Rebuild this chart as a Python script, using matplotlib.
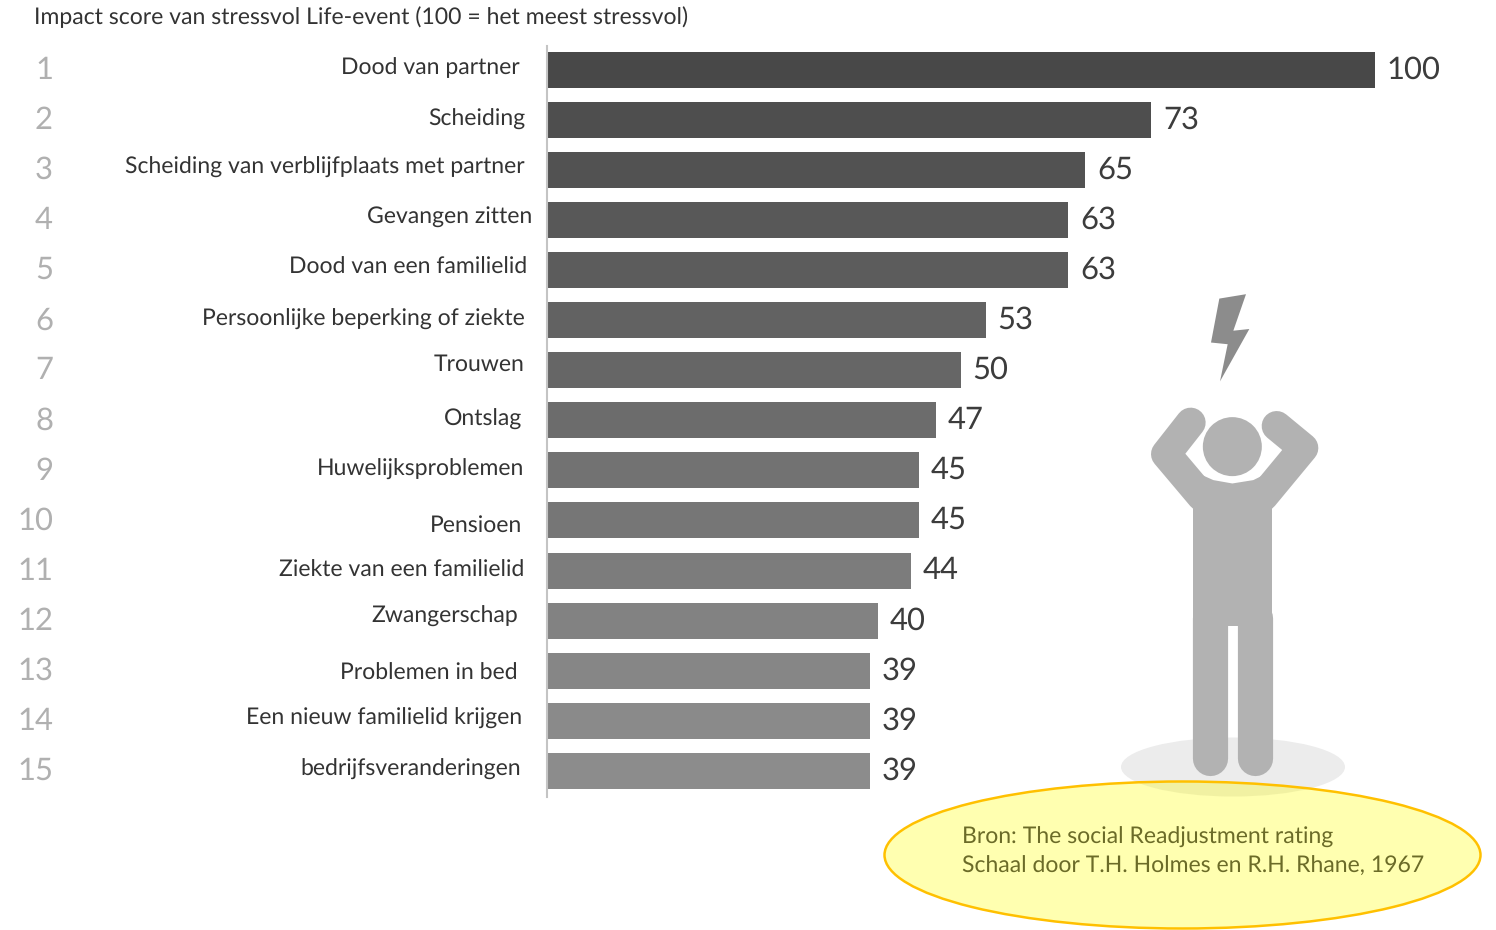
import matplotlib
matplotlib.use("Agg")
import matplotlib.pyplot as plt
from matplotlib.patches import Circle, Ellipse, Polygon, Rectangle

plt.rcParams["text.hinting"] = "no_hinting"
plt.rcParams["text.hinting_factor"] = 1

# Data
labels = ["Dood van partner", "Scheiding", "Scheiding van verblijfplaats met partner",
          "Gevangen zitten", "Dood van een familielid", "Persoonlijke beperking of ziekte",
          "Trouwen", "Ontslag", "Huwelijksproblemen", "Pensioen", "Ziekte van een familielid",
          "Zwangerschap", "Problemen in bed", "Een nieuw familielid krijgen",
          "bedrijfsveranderingen"]
scores = [100, 73, 65, 63, 63, 53, 50, 47, 45, 45, 44, 40, 39, 39, 39]
ranks = [1, 2, 3, 4, 5, 6, 7, 8, 9, 10, 11, 12, 13, 14, 15]
title = "Impact score van stressvol Life-event (100 = het meest stressvol)"
source = ["Bron: The social Readjustment rating",
          "Schaal door T.H. Holmes en R.H. Rhane, 1967"]

# Layout, in pixels of the picture
W, H = 1496, 930
label_right = [520, 525, 525, 532, 527, 525, 525, 522, 524, 522, 524, 518, 518, 522, 521]
label_base = [74, 126, 174, 223, 274, 326, 371, 426, 476, 532, 577, 623, 680, 725, 776]
bar_colors = ["#484848", "#4e4e4e", "#525252", "#585858", "#5c5c5c", "#626262", "#666666",
              "#6c6c6c", "#727272", "#767676", "#7c7c7c", "#828282", "#868686", "#8a8a8a", "#8c8c8c"]
FONT = "Lato"
px = 0.72  # 1 pixel in points at dpi 100

fig = plt.figure(figsize=(W / 100, H / 100), dpi=100, facecolor="white")

# Bars
x0, y_top, y_bot = 546.5, 46, 797
ax = fig.add_axes([x0 / W, 1 - y_bot / H, (W - x0) / W, (y_bot - y_top) / H])
bars = ax.barh(range(len(scores)), scores, height=0.72, color=bar_colors)
ax.set_xlim(0, (W - x0) / 8.285)
ax.set_ylim(14.52, -0.47)
ax.set_xticks([])
ax.set_yticks([])
for s in ["top", "right", "bottom"]:
    ax.spines[s].set_visible(False)
ax.spines["left"].set_color("#c4c4c4")
ax.spines["left"].set_linewidth(1.5)
ax.bar_label(bars, padding=8.5, fontsize=31 * px, family=FONT, color="#3c3c3c")

# Overlay for the texts and the figure
ov = fig.add_axes([0, 0, 1, 1], zorder=3)
ov.set_xlim(0, W)
ov.set_ylim(H, 0)
ov.axis("off")
ov.patch.set_alpha(0)

ov.text(34, 24, title, fontsize=23 * px, family=FONT, color="#333333", va="baseline")
for i in range(len(labels)):
    ov.text(label_right[i], label_base[i], labels[i], fontsize=23 * px, family=FONT,
            color="#333333", ha="right", va="baseline")
    ov.text(53, 70 + i * 50.1, str(ranks[i]), fontsize=31 * px, family=FONT,
            color="#b0b0b0", ha="right", va="center")

# Person, coordinates taken from the crop
GREY = "#b2b2b2"
def zx(v):
    return 1100 + v / 3
def zy(v):
    return 280 + v * 0.338

ov.add_patch(Ellipse((1233, 767), 224, 59, color="#ececec", lw=0, zorder=1))
ov.add_patch(Circle((zx(397), zy(493)), 29.5, color=GREY, lw=0, zorder=2))
ov.plot([zx(272), zx(198), zx(305)], [zy(422), zy(515), zy(640)], color=GREY, lw=30 * px,
        solid_capstyle="round", solid_joinstyle="round", zorder=2)
ov.plot([zx(530), zx(610), zx(490)], [zy(432), zy(497), zy(640)], color=GREY, lw=30 * px,
        solid_capstyle="round", solid_joinstyle="round", zorder=2)
ov.add_patch(Polygon([(zx(278), zy(665)), (zx(290), zy(570)), (zx(340), zy(592)), (zx(397), zy(602)),
                      (zx(460), zy(592)), (zx(505), zy(570)), (zx(517), zy(675))],
                     color=GREY, lw=0, zorder=2))
ov.add_patch(Rectangle((zx(278), zy(640)), 239 / 3, 385 * 0.338, color=GREY, lw=0, zorder=2))
ov.plot([zx(330.4), zx(330.4)], [zy(1000), zy(1413)], color=GREY, lw=35.2 * px,
        solid_capstyle="round", zorder=2)
ov.plot([zx(464.6), zx(464.6)], [zy(1000), zy(1413)], color=GREY, lw=35.2 * px,
        solid_capstyle="round", zorder=2)
bolt_x = [358, 438, 400, 448, 360, 383, 333]
bolt_y = [55, 42, 150, 145, 300, 190, 185]
ov.add_patch(Polygon([(zx(a), zy(b)) for a, b in zip(bolt_x, bolt_y)], color="#8c8c8c", lw=0, zorder=2))

# Yellow source ellipse
ov.add_patch(Ellipse((1182.5, 855), 596, 147, facecolor=(1, 1, 0, 0.31),
                     edgecolor="#ffc000", lw=2.5 * px, zorder=4))
ov.text(962, 844, source[0], fontsize=22.8 * px, family=FONT, color="#6b6b28", va="baseline", zorder=5)
ov.text(962, 873, source[1], fontsize=22.8 * px, family=FONT, color="#6b6b28", va="baseline", zorder=5)

fig.savefig("out.png", dpi=100)
